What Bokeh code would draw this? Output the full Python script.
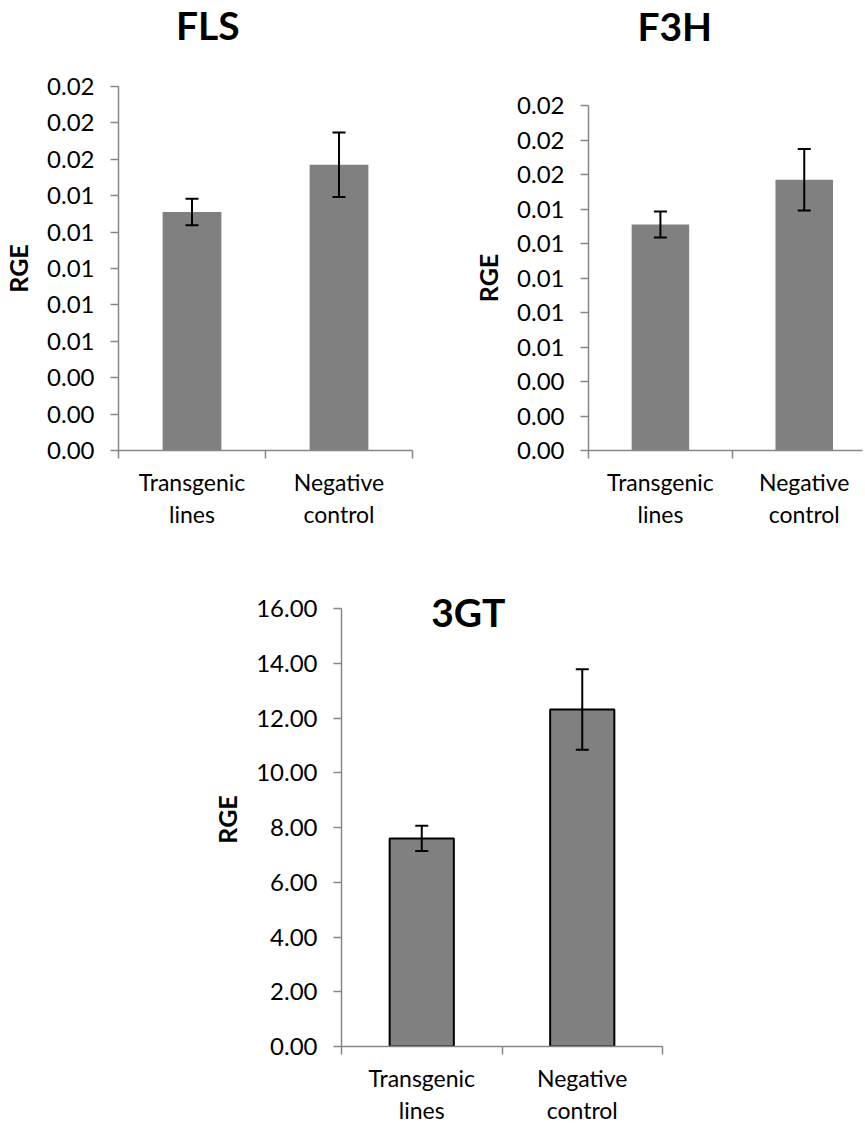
from bokeh.plotting import figure
from bokeh.models import (ColumnDataSource, Whisker, TeeHead, FixedTicker,
                          Range1d, Label, Spacer)
from bokeh.layouts import column, row
from bokeh.embed import file_html
from bokeh.resources import INLINE

# ---------------- data ----------------
categories = ["Transgenic lines", "Negative control"]
category_labels = ["Transgenic\nlines", "Negative\ncontrol"]

fls_values = [0.0131, 0.0157]
fls_errors = [0.00073, 0.00177]

f3h_values = [0.0131, 0.0157]
f3h_errors = [0.00075, 0.00178]

gt_values = [7.60, 12.31]
gt_errors = [0.46, 1.47]

small_ticks = [0.000, 0.002, 0.004, 0.006, 0.008, 0.010,
               0.012, 0.014, 0.016, 0.018, 0.020]
small_tick_labels = ["0.00", "0.00", "0.00", "0.01", "0.01", "0.01",
                     "0.01", "0.01", "0.02", "0.02", "0.02"]
gt_ticks = [0, 2, 4, 6, 8, 10, 12, 14, 16]
gt_tick_labels = ["0.00", "2.00", "4.00", "6.00", "8.00", "10.00",
                  "12.00", "14.00", "16.00"]

FONT = "Lato"
AXIS_GRAY = "#868686"
BAR_GRAY = "#808080"


def make_panel(values, errors, ticks, tick_labels, ymax, width, height,
               bl, br, bt, bb, xend, outlined, axis_top_px=0):
    """axis_top_px: empty space (px) inside the frame above the axis top."""
    centers = [i + 0.5 for i in range(len(categories))]
    src = ColumnDataSource(dict(
        x=centers, top=values,
        upper=[v + e for v, e in zip(values, errors)],
        lower=[v - e for v, e in zip(values, errors)],
    ))
    frame_h = height - bt - bb
    view_max = ymax * frame_h / (frame_h - axis_top_px)
    p = figure(width=width, height=height, output_backend="svg",
               toolbar_location=None, x_range=Range1d(0, xend),
               y_range=Range1d(0, view_max),
               min_border_left=bl, min_border_right=br,
               min_border_top=bt, min_border_bottom=bb)
    p.outline_line_color = None
    p.grid.visible = False
    p.background_fill_color = "white"
    p.border_fill_color = "white"

    p.vbar(x="x", top="top", width=0.4, source=src, fill_color=BAR_GRAY,
           line_color="black" if outlined else None,
           line_width=2 if outlined else 0)
    w = Whisker(source=src, base="x", upper="upper", lower="lower",
                line_color="black", line_width=2, level="overlay",
                upper_head=TeeHead(size=13, line_color="black", line_width=2),
                lower_head=TeeHead(size=13, line_color="black", line_width=2))
    p.add_layout(w)

    # y axis
    ya = p.yaxis[0]
    ya.bounds = (0, ymax)
    ya.ticker = FixedTicker(ticks=ticks, minor_ticks=[])
    ya.major_label_overrides = {t: l for t, l in zip(ticks, tick_labels)}
    ya.axis_line_color = AXIS_GRAY
    ya.axis_line_width = 1.5
    ya.major_tick_line_color = AXIS_GRAY
    ya.major_tick_line_width = 1.5
    ya.major_tick_out = 8
    ya.major_tick_in = 0
    ya.major_label_standoff = 16
    ya.major_label_text_font = FONT
    ya.major_label_text_font_size = "24px"
    ya.major_label_text_color = "black"
    ya.axis_label = "RGE"
    ya.axis_label_text_font = FONT
    ya.axis_label_text_font_size = "25px"
    ya.axis_label_text_font_style = "bold"
    ya.axis_label_text_color = "black"
    ya.axis_label_standoff = 11

    # x axis
    xa = p.xaxis[0]
    xa.ticker = FixedTicker(ticks=centers,
                            minor_ticks=[float(i) for i in range(len(categories) + 1)])
    xa.major_label_overrides = {c: l for c, l in zip(centers, category_labels)}
    xa.axis_line_color = AXIS_GRAY
    xa.axis_line_width = 1.5
    xa.major_tick_out = 0
    xa.major_tick_in = 0
    xa.minor_tick_out = 8
    xa.minor_tick_in = 0
    xa.minor_tick_line_color = AXIS_GRAY
    xa.minor_tick_line_width = 1.5
    xa.major_label_standoff = 9
    xa.major_label_text_font = FONT
    xa.major_label_text_font_size = "23px"
    xa.major_label_text_color = "black"
    xa.major_label_text_line_height = 1.15
    return p


def title_label(text, x, y):
    return Label(x=x, y=y, text=text, text_font=FONT,
                 text_font_size="39px", text_font_style="bold",
                 text_color="black", text_align="center",
                 text_baseline="alphabetic")


def title_figure(text, width, height, bl, br, xend, x, y):
    # same horizontal geometry as the chart below it
    t = figure(width=width, height=height, output_backend="svg",
               toolbar_location=None, x_axis_location=None,
               y_axis_location=None, x_range=Range1d(0, xend),
               y_range=Range1d(0, height),
               min_border_left=bl, min_border_right=br,
               min_border_top=0, min_border_bottom=0)
    t.outline_line_color = None
    t.grid.visible = False
    t.add_layout(title_label(text, x, y))
    return t


t1 = title_figure("FLS", 432, 72, 116, 20, 2.0, 0.608, 48)
p1 = make_panel(fls_values, fls_errors, small_ticks, small_tick_labels, 0.02,
                432, 488, 116, 20, 14, 110, 2.0, False)

t2 = title_figure("F3H", 433, 91, 156, 3, 1.905, 0.60, 65.5)
p2 = make_panel(f3h_values, f3h_errors, small_ticks, small_tick_labels, 0.02,
                433, 469, 156, 3, 14, 110, 1.905, False)

p3 = make_panel(gt_values, gt_errors, gt_ticks, gt_tick_labels, 16,
                665, 566, 141, 203, 32, 80, 2.0, True, axis_top_px=16)
p3.add_layout(title_label("3GT", 0.79, 15.87))

layout = column(row(column(t1, p1), column(t2, p2)),
                row(Spacer(width=200, height=566), p3))

open("out.html", "w").write(file_html(layout, INLINE))
